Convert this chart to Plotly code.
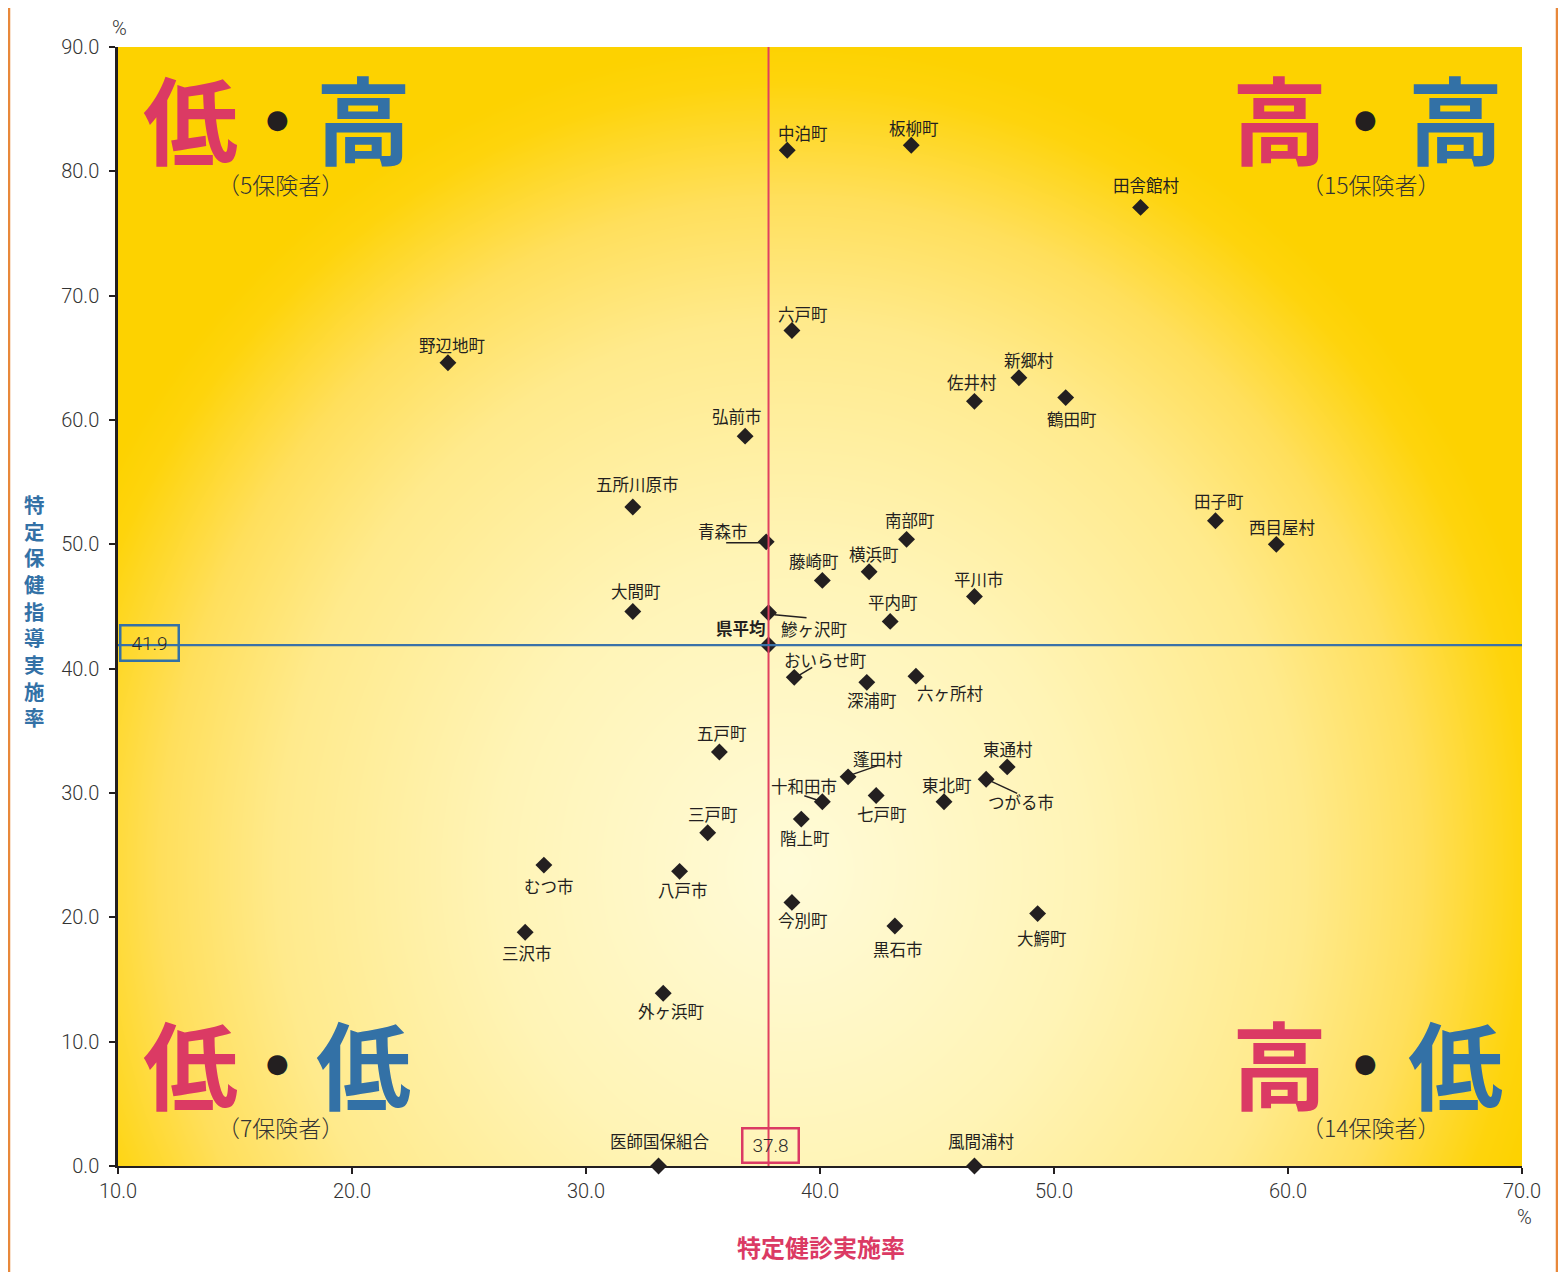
import numpy as np
import plotly.graph_objects as go

# ---------------- data ----------------
names = ["中泊町", "板柳町", "田舎館村", "六戸町", "野辺地町", "新郷村", "佐井村", "鶴田町",
         "弘前市", "五所川原市", "田子町", "西目屋村", "南部町", "青森市", "藤崎町", "横浜町",
         "平川市", "大間町", "鰺ヶ沢町", "平内町", "おいらせ町", "深浦町", "六ヶ所村", "五戸町",
         "東通村", "蓬田村", "つがる市", "七戸町", "東北町", "十和田市", "階上町", "三戸町",
         "むつ市", "八戸市", "今別町", "大鰐町", "黒石市", "三沢市", "外ヶ浜町", "医師国保組合", "風間浦村"]
kenshin = [38.6, 43.9, 53.7, 38.8, 24.1, 48.5, 46.6, 50.5,
           36.8, 32.0, 56.9, 59.5, 43.7, 37.7, 40.1, 42.1,
           46.6, 32.0, 37.8, 43.0, 38.9, 42.0, 44.1, 35.7,
           48.0, 41.2, 47.1, 42.4, 45.3, 40.1, 39.2, 35.2,
           28.2, 34.0, 38.8, 49.3, 43.2, 27.4, 33.3, 33.1, 46.6]
shido = [81.7, 82.1, 77.1, 67.2, 64.6, 63.4, 61.5, 61.8,
         58.7, 53.0, 51.9, 50.0, 50.4, 50.2, 47.1, 47.8,
         45.8, 44.6, 44.5, 43.8, 39.3, 38.9, 39.4, 33.3,
         32.1, 31.3, 31.1, 29.8, 29.3, 29.3, 27.9, 26.8,
         24.2, 23.7, 21.2, 20.3, 19.3, 18.8, 13.9, 0.0, 0.0]
avg_kenshin = 37.8
avg_shido = 41.9
x_ticks = [10, 20, 30, 40, 50, 60, 70]
y_ticks = [0, 10, 20, 30, 40, 50, 60, 70, 80, 90]
quadrants = [("低", "高", "（5保険者）"), ("高", "高", "（15保険者）"),
             ("低", "低", "（7保険者）"), ("高", "低", "（14保険者）")]

# ---------------- layout constants (page pixels) ----------------
W, H = 1566, 1272
OFF = 8                      # browser body margin
L, R, T, B = 118, 1522, 47, 1166
FW, FH = W - OFF, H - OFF
PINK = "#db3a64"
BLUE = "#3371a6"
INK = "#231f20"
JP = "Noto Sans CJK JP"

# label offsets (pixels, dx right, dy down) and optional leader lines
label_off = {
    "中泊町": (16, -17), "板柳町": (3, -17), "田舎館村": (5, -22), "六戸町": (11, -16),
    "野辺地町": (4, -18), "新郷村": (10, -18), "佐井村": (-2, -19), "鶴田町": (6, 21),
    "弘前市": (-8, -20), "五所川原市": (5, -23), "田子町": (4, -20), "西目屋村": (6, -17),
    "南部町": (3, -19), "青森市": (-43, -11), "藤崎町": (-8, -19), "横浜町": (5, -18),
    "平川市": (5, -18), "大間町": (3, -20), "鰺ヶ沢町": (45, 16), "平内町": (3, -19),
    "おいらせ町": (31, -17), "深浦町": (5, 18), "六ヶ所村": (34, 17), "五戸町": (3, -19),
    "東通村": (1, -18), "蓬田村": (30, -18), "つがる市": (35, 23), "七戸町": (6, 19),
    "東北町": (3, -17), "十和田市": (-18, -16), "階上町": (4, 19), "三戸町": (5, -19),
    "むつ市": (5, 21), "八戸市": (3, 19), "今別町": (11, 18), "大鰐町": (4, 24),
    "黒石市": (3, 23), "三沢市": (2, 21), "外ヶ浜町": (8, 18), "医師国保組合": (1, -25),
    "風間浦村": (7, -25),
}
leaders = {
    "青森市": (-40, 1, -6, 1),
    "鰺ヶ沢町": (6, 2, 38, 5),
    "おいらせ町": (3, -1, 18, -10),
    "蓬田村": (3, -2, 29, -11),
    "つがる市": (3, 1, 31, 14),
    "十和田市": (-18, -6, -3, -1),
}


def px2paper(px, py):
    return (px - L) / (R - L), (B - py) / (B - T)


def pann(px, py, text, font, **kw):
    x, y = px2paper(px, py)
    d = dict(x=x, y=y, xref="paper", yref="paper", xanchor="center", yanchor="middle",
             text=text, showarrow=False, font=font)
    d.update(kw)
    return d


fig = go.Figure()

# ---------------- background radial gradient ----------------
gx = np.linspace(10, 70, 241)
gy = np.linspace(0, 90, 241)
PX = L + (gx - 10) / 60 * (R - L)
PY = B - gy / 90 * (B - T)
XX, YY = np.meshgrid(PX, PY)
tt = np.sqrt(((XX - 790) / 740) ** 2 + ((YY - 870) / 790) ** 2)
tt = np.clip(tt, 0, 1.05)
fig.add_trace(go.Heatmap(
    x=gx, y=gy, z=tt, zmin=0, zmax=1.05, zsmooth="best", showscale=False, hoverinfo="skip",
    colorscale=[[0, "#fffbd8"], [0.38, "#fff4b6"], [0.66, "#ffea8c"], [0.81, "#ffdf5c"],
                [0.95, "#fed40c"], [1, "#fdd200"]]))

# ---------------- average lines ----------------
fig.add_shape(type="line", x0=avg_kenshin, x1=avg_kenshin, y0=0, y1=90, xref="x", yref="y",
              line=dict(color="#e0405f", width=2))
fig.add_shape(type="line", x0=10, x1=70, y0=avg_shido, y1=avg_shido, xref="x", yref="y",
              line=dict(color="#3a72a8", width=2.2))

# ---------------- points ----------------
fig.add_trace(go.Scatter(x=kenshin, y=shido, mode="markers", text=names,
                         marker=dict(symbol="diamond", size=13, color=INK, line=dict(width=0)),
                         hoverinfo="text+x+y", cliponaxis=False))
fig.add_trace(go.Scatter(x=[avg_kenshin], y=[avg_shido], mode="markers",
                         marker=dict(symbol="diamond", size=13, color=INK, line=dict(width=0)),
                         hoverinfo="x+y", cliponaxis=False))

ann = []
for n, xv, yv in zip(names, kenshin, shido):
    dx, dy = label_off[n]
    ann.append(dict(x=xv, y=yv, xref="x", yref="y", text=n, showarrow=False,
                    xanchor="center", yanchor="middle",
                    xshift=dx, yshift=-dy, font=dict(family=JP, size=16.5, color=INK)))
    if n in leaders:
        a, b, c, d = leaders[n]
        fig.add_shape(type="line", xref="x", yref="y", xsizemode="pixel", ysizemode="pixel",
                      xanchor=xv, yanchor=yv, x0=a, x1=c, y0=-b, y1=-d,
                      line=dict(color=INK, width=1.5))
ann.append(dict(x=avg_kenshin, y=avg_shido, xref="x", yref="y", text="<b>県平均</b>",
                showarrow=False, xanchor="center", yanchor="middle", xshift=-28, yshift=17,
                font=dict(family=JP, size=16.5, color=INK)))

# average value boxes
ann.append(pann(149, 643, f"{avg_shido:.1f}",
                dict(family="Roboto", size=19, color="#2a2a2a", weight=300),
                bordercolor=BLUE, borderwidth=2.5, borderpad=3, width=50, height=27))
ann.append(pann(770, 1145, f"{avg_kenshin:.1f}",
                dict(family="Roboto", size=19, color="#2a2a2a", weight=300),
                bordercolor=PINK, borderwidth=2.5, borderpad=3, width=48, height=26))

# ---------------- quadrant labels ----------------
qpos = [(190, 277, 363, 121, 183), (1279, 1365, 1455, 121, 183),
        (190, 277, 363, 1065, 1126), (1279, 1365, 1455, 1065, 1126)]
for (c1, c2, sub), (x1, xd, x2, yc, ys) in zip(quadrants, qpos):
    for ch, col, xp in ((c1, PINK, x1), (c2, BLUE, x2)):
        ann.append(pann(xp, yc - 4, f"<b>{ch}</b>", dict(family=JP, size=95, color=col, weight=900)))
    ann.append(pann(xd, yc - 2, "●", dict(family="DejaVu Sans", size=26, color=INK)))
    ann.append(pann((x1 + x2) / 2 + 4, ys + 1, sub, dict(family=JP, size=23, color="#333", weight=300)))

# ---------------- axis titles / units ----------------
ann.append(pann(34, 610, "<b>" + "<br>".join("特定保健指導実施率") + "</b>",
                dict(family=JP, size=20.5, color=BLUE)))
ann.append(pann(821, 1246, "<b>特定健診実施率</b>", dict(family=JP, size=24, color=PINK)))
ann.append(pann(119, 28, "%", dict(family="Roboto", size=20, color="#333", weight=300)))
ann.append(pann(1524, 1217, "%", dict(family="Roboto", size=20, color="#333", weight=300)))

# outer orange frame
fig.add_shape(type="rect", xref="paper", yref="paper",
              x0=(9 - L) / (R - L), x1=(1557 - L) / (R - L),
              y0=(B - 1300) / (B - T), y1=(B - 5) / (B - T),
              line=dict(color="#e8883a", width=2.5), fillcolor="rgba(0,0,0,0)", layer="above")

fig.update_layout(
    width=FW, height=FH,
    margin=dict(l=L - OFF, r=FW - (R - OFF), t=T - OFF, b=FH - (B - OFF), pad=0),
    paper_bgcolor="white", plot_bgcolor="white",
    showlegend=False, annotations=ann,
    xaxis=dict(range=[10, 70], tickvals=x_ticks, tickformat=".1f", showgrid=False, zeroline=False,
               showline=True, linecolor=INK, linewidth=2, ticks="outside", ticklen=6,
               tickcolor=INK, tickwidth=1.5,
               tickfont=dict(family="Roboto", size=20, color="#333", weight=300)),
    yaxis=dict(range=[0, 90], tickvals=y_ticks, tickformat=".1f", showgrid=False, zeroline=False,
               showline=True, linecolor=INK, linewidth=2.5, ticks="outside", ticklen=6,
               tickcolor=INK, tickwidth=1.5, ticklabelstandoff=6,
               tickfont=dict(family="Roboto", size=20, color="#333", weight=300)),
)

fig.write_html("out.html")
